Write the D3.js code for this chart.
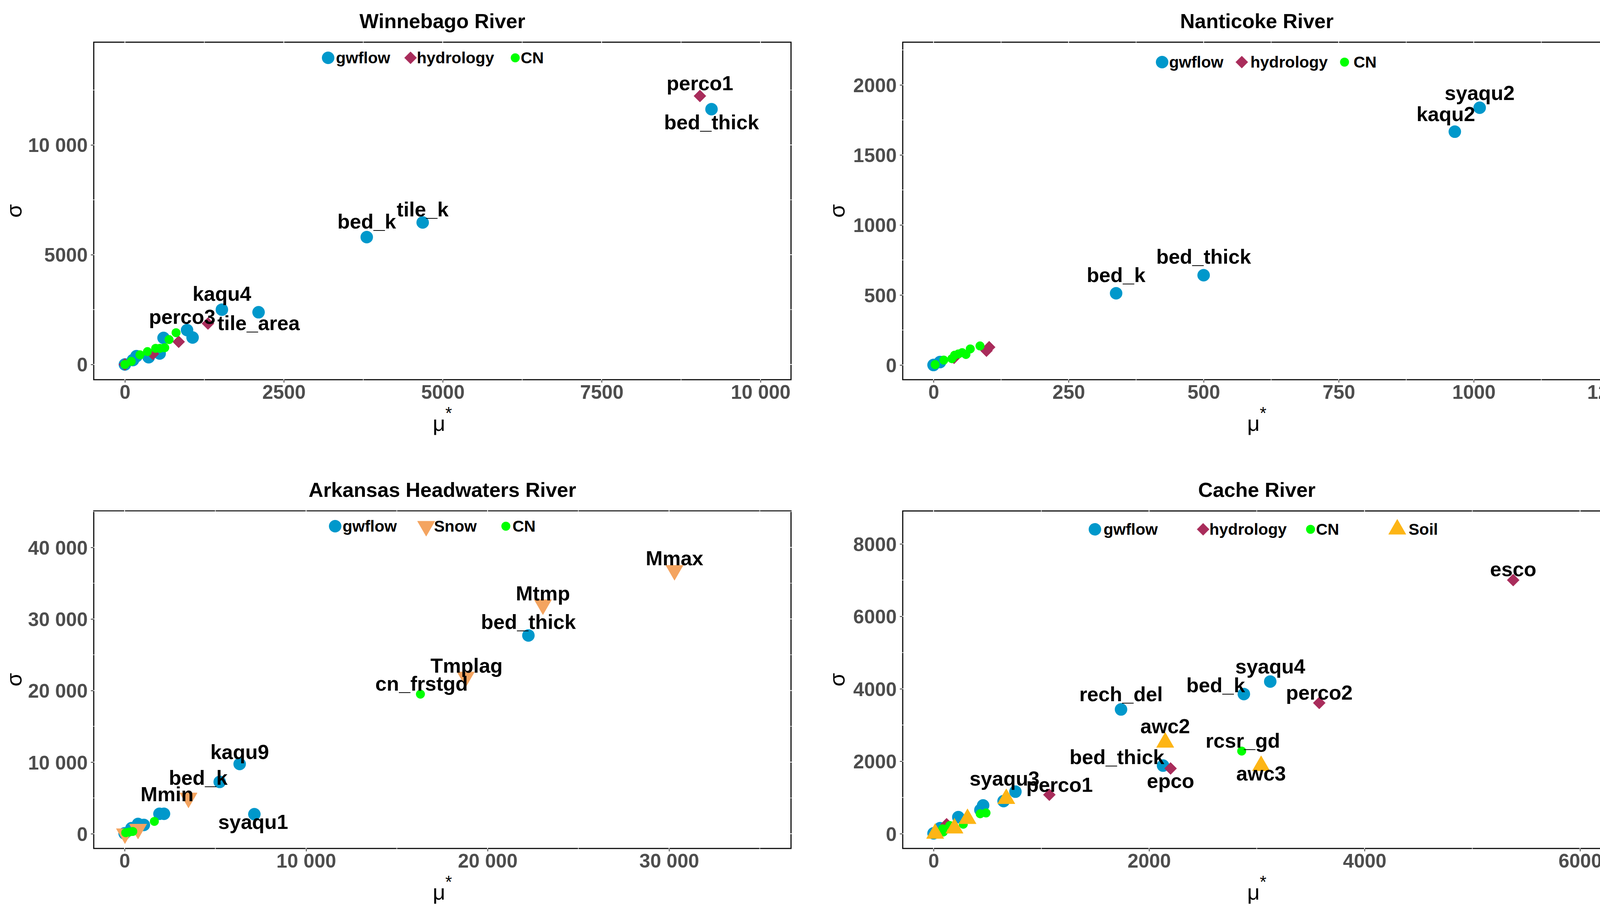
<!DOCTYPE html>
<html>
<head>
<meta charset="utf-8">
<script src="https://cdn.jsdelivr.net/npm/d3@7.9.0/dist/d3.min.js"></script>
<style>
  html, body { margin: 0; padding: 0; background: #fff; }
  svg { display: block; font-family: "Liberation Sans", Arial, sans-serif; }
</style>
</head>
<body>
<svg id="chart" width="4205" height="2350"></svg>
<script>
// ---- data: [mu*, sigma, label] ----
const panelTitles = ['Winnebago River', 'Nanticoke River', 'Arkansas Headwaters River', 'Cache River'];

// Winnebago River
const winGwflow = [[0, 0], [127, 200], [182, 378], [374, 330], [547, 497], [608, 1209], [978, 1565], [1065, 1227],
  [1526, 2496, 'kaqu4'], [2103, 2378, 'tile_area'], [3805, 5800, 'bed_k'], [4685, 6468, 'tile_k'], [9229, 11628, 'bed_thick']];
const winHydrology = [[0, 0], [440, 480], [846, 1031], [1307, 1862, 'perco3'], [9047, 12228, 'perco1']];
const winCN = [[0, 0], [100, 141], [237, 439], [355, 586], [484, 734], [551, 734], [627, 764], [695, 1133], [805, 1446]];
const winXDomain = [-490, 10480];
const winYDomain = [-695, 14680];
const winXTicks = [0, 2500, 5000, 7500, 10000];
const winXTickLabels = ['0', '2500', '5000', '7500', '10 000'];
const winYTicks = [0, 5000, 10000];
const winYTickLabels = ['0', '5000', '10 000'];

// Nanticoke River
const nanGwflow = [[0, 0], [12, 21], [338, 512, 'bed_k'], [500, 641, 'bed_thick'], [965, 1666, 'kaqu2'], [1011, 1837, 'syaqu2']];
const nanHydrology = [[38, 51], [98, 102], [103, 127]];
const nanCN = [[3, 3], [19, 35], [34, 45], [39, 70], [46, 79], [53, 88], [60, 75], [68, 115], [86, 136]];
const nanXDomain = [-57, 1254];
const nanYDomain = [-105, 2305];
const nanXTicks = [0, 250, 500, 750, 1000, 1250];
const nanXTickLabels = ['0', '250', '500', '750', '1000', '1250'];
const nanYTicks = [0, 500, 1000, 1500, 2000];
const nanYTickLabels = ['0', '500', '1000', '1500', '2000'];

// Arkansas Headwaters River
const arkGwflow = [[0, 50], [380, 780], [740, 1360], [1060, 1230], [1920, 2780], [2170, 2780],
  [5240, 7240, 'bed_k'], [6340, 9740, 'kaqu9'], [7150, 2730, 'syaqu1'], [22250, 27700, 'bed_thick']];
const arkSnow = [[20, 10], [740, 650], [3520, 5000, 'Mmin'], [18800, 21900, 'Tmplag'], [23050, 32000, 'Mtmp'], [30300, 36800, 'Mmax']];
const arkCN = [[60, 140], [250, 230], [450, 320], [1640, 1720], [16300, 19500, 'cn_frstgd']];
const arkXDomain = [-1700, 36720];
const arkYDomain = [-2060, 45090];
const arkXTicks = [0, 10000, 20000, 30000];
const arkXTickLabels = ['0', '10 000', '20 000', '30 000'];
const arkYTicks = [0, 10000, 20000, 30000, 40000];
const arkYTickLabels = ['0', '10 000', '20 000', '30 000', '40 000'];

// Cache River
const cacGwflow = [[0, 10], [60, 153], [230, 458], [435, 655], [460, 780], [650, 900], [760, 1160, 'syaqu3'],
  [1740, 3430, 'rech_del'], [2130, 1880, 'bed_thick'], [2880, 3855, 'bed_k'], [3125, 4200, 'syaqu4']];
const cacHydrology = [[121, 261], [1075, 1075, 'perco1'], [2200, 1800, 'epco'], [3580, 3610, 'perco2'], [5380, 7000, 'esco']];
const cacCN = [[85, 134], [90, 45], [150, 225], [276, 261], [433, 550], [487, 573], [2860, 2280, 'rcsr_gd']];
const cacSoil = [[15, 5], [194, 150], [315, 412], [675, 965], [2150, 2520, 'awc2'], [3040, 1875, 'awc3']];
const cacXDomain = [-286, 6287];
const cacYDomain = [-408, 8909];
const cacXTicks = [0, 2000, 4000, 6000];
const cacXTickLabels = ['0', '2000', '4000', '6000'];
const cacYTicks = [0, 2000, 4000, 6000, 8000];
const cacYTickLabels = ['0', '2000', '4000', '6000', '8000'];

// ---- styles / layout ----
const seriesStyle = {
  gwflow:    { shape: 'circle',  r: 16,   color: '#0098CB' },
  hydrology: { shape: 'diamond', r: 15.5, color: '#A92C5B' },
  CN:        { shape: 'circle',  r: 11.5, color: '#00FF00' },
  Snow:      { shape: 'triDown', r: 16.5, color: '#F4A460' },
  Soil:      { shape: 'triUp',   r: 16.5, color: '#FDB515' }
};

const cols = [{ left: 240, right: 2025, yTitleX: 55 }, { left: 2311, right: 4124, yTitleX: 2162 }];
const rows = [{ top: 108, bottom: 972 }, { top: 1308, bottom: 2172 }];

// label nudges in px (label centre relative to its point)
const labelNudge = {
  '0:perco1': [0, -30], '0:bed_thick': [0, 36], '0:bed_k': [0, -37], '0:tile_k': [0, -31],
  '0:kaqu4': [0, -38], '0:perco3': [-66, -14], '0:tile_area': [0, 31],
  '1:syaqu2': [0, -35], '1:kaqu2': [-23, -42], '1:bed_thick': [0, -45], '1:bed_k': [0, -44],
  '2:Mmax': [0, -28], '2:Mtmp': [0, -26], '2:bed_thick': [0, -32], '2:Tmplag': [2, -26],
  '2:cn_frstgd': [3, -24], '2:kaqu9': [0, -28], '2:bed_k': [-55, -8], '2:Mmin': [-55, -7], '2:syaqu1': [-3, 23],
  '3:esco': [0, -25], '3:syaqu4': [0, -36], '3:bed_k': [-72, -20], '3:perco2': [0, -23],
  '3:rech_del': [0, -36], '3:awc2': [0, -39], '3:rcsr_gd': [3, -24], '3:awc3': [0, 23],
  '3:bed_thick': [-118, -19], '3:epco': [0, 35], '3:syaqu3': [-28, -31], '3:perco1': [26, -23]
};

const panels = [
  { col: 0, row: 0, xDomain: winXDomain, yDomain: winYDomain,
    xTicks: winXTicks, xTickLabels: winXTickLabels, yTicks: winYTicks, yTickLabels: winYTickLabels,
    series: [['gwflow', winGwflow], ['hydrology', winHydrology], ['CN', winCN]],
    legendY: 40, legendX: [[600, 620], [811, 827], [1079, 1093]] },
  { col: 1, row: 0, xDomain: nanXDomain, yDomain: nanYDomain,
    xTicks: nanXTicks, xTickLabels: nanXTickLabels, yTicks: nanYTicks, yTickLabels: nanYTickLabels,
    series: [['gwflow', nanGwflow], ['hydrology', nanHydrology], ['CN', nanCN]],
    legendY: 51, legendX: [[664, 682], [868, 890], [1131, 1154]] },
  { col: 0, row: 1, xDomain: arkXDomain, yDomain: arkYDomain,
    xTicks: arkXTicks, xTickLabels: arkXTickLabels, yTicks: arkYTicks, yTickLabels: arkYTickLabels,
    series: [['gwflow', arkGwflow], ['Snow', arkSnow], ['CN', arkCN]],
    legendY: 39, legendX: [[618, 637], [851, 871], [1055, 1072]] },
  { col: 1, row: 1, xDomain: cacXDomain, yDomain: cacYDomain,
    xTicks: cacXTicks, xTickLabels: cacXTickLabels, yTicks: cacYTicks, yTickLabels: cacYTickLabels,
    series: [['gwflow', cacGwflow], ['hydrology', cacHydrology], ['CN', cacCN], ['Soil', cacSoil]],
    legendY: 47, legendX: [[492, 514], [769, 785], [1044, 1058], [1266, 1295]] }
];

function symPath(shape, r) {
  if (shape === 'diamond') return `M0,${-r}L${r},0L0,${r}L${-r},0Z`;
  const xc = 1.3468 * r, top = 1.5551 * r, yc = 0.7776 * r;
  if (shape === 'triUp') return `M0,${-top}L${xc},${yc}L${-xc},${yc}Z`;
  return `M0,${top}L${xc},${-yc}L${-xc},${-yc}Z`;
}

function drawSymbol(g, key, x, y) {
  const st = seriesStyle[key];
  if (st.shape === 'circle') {
    g.append('circle').attr('cx', x).attr('cy', y).attr('r', st.r).attr('fill', st.color);
  } else {
    g.append('path').attr('d', symPath(st.shape, st.r))
      .attr('transform', `translate(${x},${y})`)
      .attr('fill', st.color).attr('stroke', st.color).attr('stroke-width', 1);
  }
}

// minor breaks: midpoints between majors, extended half a step each side
function minorBreaks(ticks, domain) {
  const step = ticks[1] - ticks[0];
  const out = [];
  for (let v = ticks[0] - step / 2; v <= domain[1]; v += step) {
    if (v >= domain[0]) out.push(v);
  }
  return out;
}

const svg = d3.select('#chart');
svg.append('rect').attr('width', 4205).attr('height', 2350).attr('fill', '#fff');

panels.forEach((p, i) => {
  const c = cols[p.col], r = rows[p.row];
  const x = d3.scaleLinear().domain(p.xDomain).range([c.left, c.right]);
  const y = d3.scaleLinear().domain(p.yDomain).range([r.bottom, r.top]);
  const g = svg.append('g');

  // panel background with black outline, grid lines drawn over it (white)
  g.append('rect')
    .attr('x', c.left).attr('y', r.top)
    .attr('width', c.right - c.left).attr('height', r.bottom - r.top)
    .attr('fill', '#fff').attr('stroke', '#000').attr('stroke-width', 2.8);

  const grid = g.append('g').attr('stroke', '#fff');
  minorBreaks(p.xTicks, p.xDomain).forEach(v => {
    grid.append('line').attr('x1', x(v)).attr('x2', x(v)).attr('y1', r.top - 3).attr('y2', r.bottom + 3).attr('stroke-width', 1.4);
  });
  minorBreaks(p.yTicks, p.yDomain).forEach(v => {
    grid.append('line').attr('y1', y(v)).attr('y2', y(v)).attr('x1', c.left - 3).attr('x2', c.right + 3).attr('stroke-width', 1.4);
  });
  p.xTicks.forEach(v => {
    grid.append('line').attr('x1', x(v)).attr('x2', x(v)).attr('y1', r.top - 3).attr('y2', r.bottom + 3).attr('stroke-width', 2);
  });
  p.yTicks.forEach(v => {
    grid.append('line').attr('y1', y(v)).attr('y2', y(v)).attr('x1', c.left - 3).attr('x2', c.right + 3).attr('stroke-width', 2);
  });

  // axes
  const xAxis = g.append('g').attr('transform', `translate(0,${r.bottom + 1.4})`)
    .call(d3.axisBottom(x).tickValues(p.xTicks).tickFormat((d, k) => p.xTickLabels[k])
      .tickSize(6).tickSizeOuter(0).tickPadding(6));
  const yAxis = g.append('g').attr('transform', `translate(${c.left - 1.4},0)`)
    .call(d3.axisLeft(y).tickValues(p.yTicks).tickFormat((d, k) => p.yTickLabels[k])
      .tickSize(6).tickSizeOuter(0).tickPadding(8));
  [xAxis, yAxis].forEach(a => {
    a.select('.domain').remove();
    a.selectAll('.tick line').attr('stroke', '#333').attr('stroke-width', 2);
    a.selectAll('.tick text')
      .attr('fill', '#4D4D4D')
      .attr('font-family', '"Liberation Sans", Arial, sans-serif')
      .attr('font-weight', 'bold')
      .attr('font-size', 50);
  });
  yAxis.selectAll('.tick text').attr('dy', '0.36em');

  // points, in legend order
  p.series.forEach(([key, pts]) => {
    const sg = g.append('g');
    pts.forEach(d => drawSymbol(sg, key, x(d[0]), y(d[1])));
  });

  // point labels
  const lg = g.append('g').attr('font-weight', 'bold').attr('font-size', 52).attr('fill', '#000')
    .attr('text-anchor', 'middle');
  p.series.forEach(([key, pts]) => {
    pts.filter(d => d[2]).forEach(d => {
      const nd = labelNudge[`${i}:${d[2]}`] || [0, -30];
      lg.append('text').attr('x', x(d[0]) + nd[0]).attr('y', y(d[1]) + nd[1])
        .attr('dy', '0.29em').text(d[2]);
    });
  });

  // legend
  const leg = g.append('g');
  p.series.forEach(([key], k) => {
    const ly = r.top + p.legendY;
    drawSymbol(leg, key, c.left + p.legendX[k][0], ly);
    leg.append('text').attr('x', c.left + p.legendX[k][1]).attr('y', ly + 14)
      .attr('font-weight', 'bold').attr('font-size', 41).attr('fill', '#000').text(key);
  });

  // title
  const cx = (c.left + c.right) / 2;
  g.append('text').attr('x', cx).attr('y', r.top - 36)
    .attr('text-anchor', 'middle').attr('font-weight', 'bold').attr('font-size', 52)
    .attr('fill', '#000').text(panelTitles[i]);

  // axis titles
  const xt = g.append('text').attr('x', cx).attr('y', r.bottom + 131)
    .attr('text-anchor', 'middle').attr('font-size', 56).attr('fill', '#000');
  xt.append('tspan').text('\u03BC');
  xt.append('tspan').attr('dy', -30).attr('font-size', 44).text('*');

  g.append('text')
    .attr('transform', `translate(${c.yTitleX},${(r.top + r.bottom) / 2}) rotate(-90)`)
    .attr('text-anchor', 'middle').attr('font-size', 56).attr('fill', '#000').text('\u03C3');
});
</script>
</body>
</html>
